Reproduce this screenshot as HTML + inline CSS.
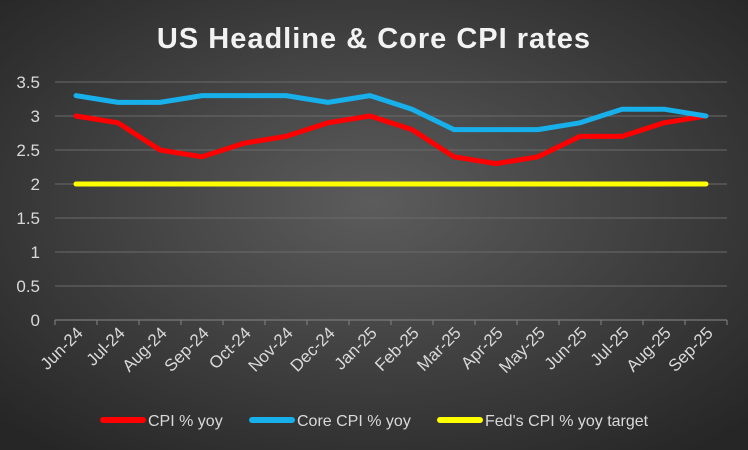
<!DOCTYPE html>
<html><head><style>
body{margin:0;width:748px;height:450px;overflow:hidden;background:#333}
svg{display:block}
text{font-family:"Liberation Sans",sans-serif;fill:#d9d9d9}
</style></head><body>
<svg width="748" height="450" viewBox="0 0 748 450">
<defs>
<radialGradient id="bg" cx="0.5" cy="0.45" r="0.7">
<stop offset="0" stop-color="#5c5c5c"/><stop offset="1" stop-color="#262626"/>
</radialGradient>
</defs>
<rect width="748" height="450" fill="url(#bg)"/>
<text x="374" y="48" text-anchor="middle" font-size="29" font-weight="bold" fill="#f2f2f2" style="fill:#f2f2f2;letter-spacing:1px">US Headline &amp; Core CPI rates</text>
<g stroke="#6a6a6a" stroke-width="1">
<line x1="55" x2="727" y1="82" y2="82"/><line x1="55" x2="727" y1="116" y2="116"/>
<line x1="55" x2="727" y1="150" y2="150"/><line x1="55" x2="727" y1="184" y2="184"/>
<line x1="55" x2="727" y1="218" y2="218"/><line x1="55" x2="727" y1="252" y2="252"/>
<line x1="55" x2="727" y1="286" y2="286"/>
</g>
<g stroke="#7a7a7a" stroke-width="1.2">
<line x1="55" x2="727" y1="320" y2="320"/>
<path d="M55 320v5M97 320v5M139 320v5M181 320v5M223 320v5M265 320v5M307 320v5M349 320v5M391 320v5M433 320v5M475 320v5M517 320v5M559 320v5M601 320v5M643 320v5M685 320v5M727 320v5"/>
</g>
<g font-size="17" text-anchor="end">
<text x="40" y="88">3.5</text><text x="40" y="122">3</text><text x="40" y="156">2.5</text>
<text x="40" y="190">2</text><text x="40" y="224">1.5</text><text x="40" y="258">1</text>
<text x="40" y="292">0.5</text><text x="40" y="326">0</text>
</g>
<g font-size="17" text-anchor="end">
<text transform="translate(84,334) rotate(-45)">Jun-24</text>
<text transform="translate(126,334) rotate(-45)">Jul-24</text>
<text transform="translate(168,334) rotate(-45)">Aug-24</text>
<text transform="translate(210,334) rotate(-45)">Sep-24</text>
<text transform="translate(252,334) rotate(-45)">Oct-24</text>
<text transform="translate(294,334) rotate(-45)">Nov-24</text>
<text transform="translate(336,334) rotate(-45)">Dec-24</text>
<text transform="translate(378,334) rotate(-45)">Jan-25</text>
<text transform="translate(420,334) rotate(-45)">Feb-25</text>
<text transform="translate(462,334) rotate(-45)">Mar-25</text>
<text transform="translate(504,334) rotate(-45)">Apr-25</text>
<text transform="translate(546,334) rotate(-45)">May-25</text>
<text transform="translate(588,334) rotate(-45)">Jun-25</text>
<text transform="translate(630,334) rotate(-45)">Jul-25</text>
<text transform="translate(672,334) rotate(-45)">Aug-25</text>
<text transform="translate(714,334) rotate(-45)">Sep-25</text>
</g>
<g fill="none" stroke-width="5" stroke-linecap="round" stroke-linejoin="round">
<polyline stroke="#ffff00" points="76,184 706,184"/>
<polyline stroke="#ff0000" points="76,116 118,122.8 160,150 202,156.8 244,143.2 286,136.4 328,122.8 370,116 412,129.6 454,156.8 496,163.6 538,156.8 580,136.4 622,136.4 664,122.8 706,116"/>
<polyline stroke="#17b0ea" points="76,95.6 118,102.4 160,102.4 202,95.6 244,95.6 286,95.6 328,102.4 370,95.6 412,109.2 454,129.6 496,129.6 538,129.6 580,122.8 622,109.2 664,109.2 706,116"/>
</g>
<g stroke-width="6" stroke-linecap="round">
<line x1="103" x2="143" y1="420" y2="420" stroke="#ff0000"/>
<line x1="252" x2="292" y1="420" y2="420" stroke="#17b0ea"/>
<line x1="440" x2="480" y1="420" y2="420" stroke="#ffff00"/>
</g>
<g font-size="16">
<text x="148" y="426">CPI % yoy</text>
<text x="297" y="426">Core CPI % yoy</text>
<text x="485" y="426">Fed's CPI % yoy target</text>
</g>
</svg>
</body></html>
